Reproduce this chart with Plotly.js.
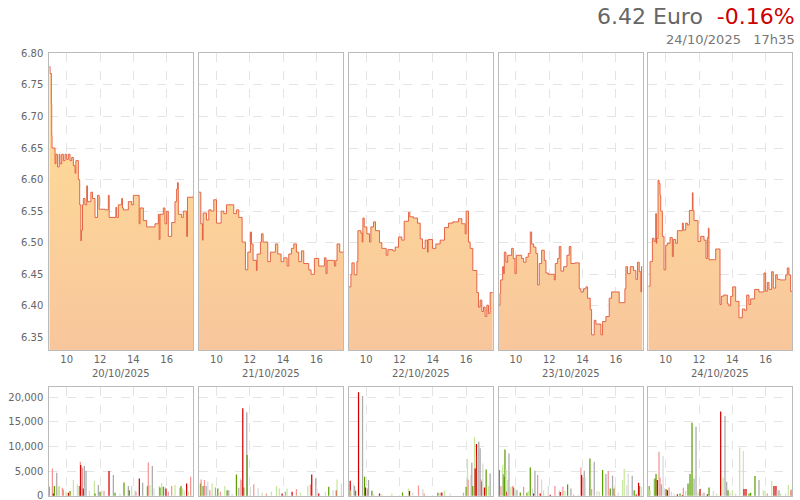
<!DOCTYPE html>
<html><head><meta charset="utf-8">
<script src="https://cdn.plot.ly/plotly-3.0.1.min.js"></script>
<style>html,body{margin:0;padding:0;background:#fff}#c{width:800px;height:500px}</style>
</head><body><div id="c"></div><script>
const days = ['20/10/2025','21/10/2025','22/10/2025','23/10/2025','24/10/2025'];
const tickHours = [10,12,14,16];
const volTicks = [0,5000,10000,15000,20000];
const lastPrice = '6.42 Euro';
const change = '-0.16%';
const stamp = '24/10/2025\u00a0\u00a0\u00a017h35';

const price1 = [[8.955,6.779],[9.0,6.768],[9.08,6.72],[9.1,6.67],[9.12,6.65],[9.3,6.625],[9.35,6.64],[9.45,6.62],[9.55,6.64],[9.6,6.625],[9.7,6.64],[9.8,6.63],[9.9,6.64],[10.0,6.632],[10.1,6.64],[10.2,6.63],[10.3,6.635],[10.4,6.622],[10.5,6.61],[10.55,6.63],[10.7,6.60],[10.78,6.56],[10.85,6.503],[10.88,6.52],[10.95,6.56],[11.0,6.57],[11.1,6.56],[11.2,6.59],[11.25,6.565],[11.45,6.58],[11.55,6.57],[11.7,6.54],[11.85,6.575],[11.95,6.553],[12.3,6.552],[12.5,6.575],[12.55,6.54],[12.9,6.54],[12.95,6.556],[13.0,6.54],[13.1,6.56],[13.3,6.57],[13.35,6.555],[13.4,6.552],[13.7,6.565],[13.9,6.56],[14.0,6.575],[14.35,6.53],[14.4,6.555],[14.6,6.535],[14.8,6.525],[15.3,6.53],[15.5,6.545],[15.55,6.505],[15.6,6.545],[15.8,6.555],[15.9,6.53],[16.0,6.55],[16.1,6.51],[16.3,6.532],[16.5,6.565],[16.6,6.585],[16.65,6.595],[16.7,6.545],[16.9,6.54],[17.0,6.55],[17.2,6.51],[17.25,6.572],[17.6,6.575]];
const price2 = [[8.955,6.580],[9.06,6.530],[9.16,6.504],[9.2,6.547],[9.4,6.536],[9.54,6.552],[9.68,6.550],[9.84,6.568],[10.0,6.531],[10.28,6.550],[10.44,6.546],[10.6,6.560],[11.04,6.546],[11.2,6.552],[11.34,6.540],[11.54,6.501],[11.74,6.457],[11.88,6.485],[12.04,6.517],[12.1,6.498],[12.2,6.472],[12.4,6.456],[12.44,6.482],[12.64,6.501],[12.7,6.514],[12.8,6.501],[13.08,6.470],[13.24,6.485],[13.54,6.498],[13.68,6.482],[13.88,6.470],[14.04,6.476],[14.24,6.463],[14.34,6.482],[14.5,6.491],[14.64,6.498],[14.8,6.485],[14.94,6.470],[15.1,6.487],[15.24,6.467],[15.54,6.457],[15.68,6.450],[15.88,6.475],[16.14,6.463],[16.48,6.476],[16.58,6.451],[16.64,6.472],[17.08,6.463],[17.16,6.472],[17.24,6.498],[17.4,6.485],[17.6,6.484]];
const price3 = [[8.955,6.430],[9.08,6.450],[9.14,6.468],[9.28,6.449],[9.44,6.470],[9.5,6.519],[9.68,6.515],[9.76,6.501],[9.8,6.539],[9.88,6.525],[10.04,6.514],[10.2,6.501],[10.28,6.525],[10.44,6.533],[10.56,6.519],[10.8,6.500],[10.94,6.491],[11.2,6.480],[11.3,6.489],[11.6,6.487],[11.74,6.493],[11.94,6.509],[12.14,6.504],[12.28,6.534],[12.54,6.548],[12.62,6.541],[12.84,6.539],[13.08,6.531],[13.24,6.506],[13.38,6.491],[13.54,6.504],[13.68,6.485],[13.72,6.505],[13.98,6.491],[14.18,6.498],[14.44,6.504],[14.7,6.524],[14.94,6.531],[15.2,6.533],[15.54,6.538],[15.74,6.530],[15.94,6.514],[16.0,6.550],[16.14,6.501],[16.24,6.491],[16.4,6.456],[16.64,6.421],[16.74,6.398],[16.84,6.409],[16.94,6.391],[17.04,6.398],[17.14,6.383],[17.24,6.401],[17.34,6.388],[17.44,6.421],[17.6,6.421]];
const price4 = [[8.955,6.401],[9.04,6.420],[9.08,6.441],[9.2,6.462],[9.26,6.451],[9.3,6.485],[9.4,6.469],[9.5,6.480],[9.74,6.491],[9.84,6.475],[9.94,6.451],[10.02,6.480],[10.34,6.475],[10.46,6.469],[10.6,6.477],[10.74,6.483],[10.86,6.517],[10.94,6.498],[11.06,6.493],[11.2,6.483],[11.3,6.433],[11.4,6.467],[11.54,6.488],[11.7,6.472],[11.8,6.452],[11.94,6.450],[12.3,6.441],[12.36,6.467],[12.5,6.475],[12.6,6.494],[12.7,6.455],[12.86,6.462],[13.06,6.480],[13.2,6.494],[13.3,6.467],[13.54,6.468],[13.8,6.427],[13.9,6.422],[14.06,6.427],[14.2,6.430],[14.3,6.412],[14.46,6.394],[14.54,6.354],[14.7,6.377],[14.8,6.371],[15.1,6.354],[15.2,6.375],[15.4,6.383],[15.6,6.412],[15.74,6.422],[16.2,6.405],[16.54,6.427],[16.6,6.462],[16.7,6.451],[16.86,6.462],[17.06,6.456],[17.2,6.442],[17.3,6.469],[17.4,6.454],[17.5,6.422],[17.54,6.462],[17.6,6.462]];
const price5 = [[8.955,6.431],[9.06,6.470],[9.2,6.507],[9.3,6.502],[9.4,6.546],[9.44,6.499],[9.46,6.507],[9.54,6.599],[9.6,6.594],[9.66,6.575],[9.7,6.550],[9.8,6.510],[9.9,6.457],[10.0,6.496],[10.1,6.499],[10.26,6.508],[10.4,6.478],[10.46,6.505],[10.6,6.499],[10.7,6.519],[11.0,6.531],[11.06,6.520],[11.2,6.531],[11.3,6.528],[11.42,6.551],[11.6,6.579],[11.64,6.551],[11.7,6.535],[11.94,6.502],[12.1,6.510],[12.3,6.504],[12.42,6.475],[12.5,6.508],[12.56,6.523],[12.6,6.473],[13.0,6.490],[13.26,6.402],[13.34,6.415],[13.46,6.417],[13.7,6.403],[13.8,6.400],[13.9,6.415],[14.02,6.430],[14.2,6.407],[14.4,6.381],[14.6,6.395],[14.74,6.393],[14.86,6.417],[15.0,6.402],[15.1,6.411],[15.34,6.426],[15.6,6.422],[15.9,6.452],[16.0,6.423],[16.1,6.437],[16.2,6.426],[16.36,6.454],[16.46,6.428],[16.6,6.449],[16.7,6.442],[16.86,6.441],[17.2,6.449],[17.3,6.460],[17.4,6.449],[17.5,6.423],[17.6,6.423]];

// volume: [hour, shares, trade type]  R=down big, r=down, G=up big, g=up, K=neutral big, k=neutral
const vol1 = [[8.96,1830,'G'],[9.14,5560,'r'],[9.2,475,'R'],[9.26,1970,'G'],[9.4,4680,'K'],[9.5,1830,'g'],[9.56,1970,'g'],[9.74,1630,'r'],[9.8,1290,'r'],[9.96,810,'g'],[10.1,610,'R'],[10.2,950,'G'],[10.4,3190,'g'],[10.64,2370,'k'],[10.76,1970,'G'],[10.82,6920,'r'],[10.84,6240,'R'],[10.94,5700,'r'],[11.0,1490,'R'],[11.06,6030,'K'],[11.1,1830,'k'],[11.16,5090,'K'],[11.36,1020,'k'],[11.66,2980,'g'],[11.7,475,'G'],[11.9,2170,'K'],[12.0,810,'G'],[12.1,1150,'k'],[12.24,950,'r'],[12.54,5020,'R'],[12.8,4200,'K'],[12.9,610,'G'],[13.2,475,'k'],[13.44,2710,'G'],[13.7,1970,'K'],[13.76,1150,'G'],[13.9,1970,'g'],[14.1,1150,'k'],[14.16,810,'r'],[14.36,3530,'R'],[14.56,2640,'K'],[14.82,1830,'g'],[14.86,1970,'G'],[14.9,6780,'r'],[15.0,2170,'g'],[15.14,6030,'K'],[15.24,1490,'k'],[15.56,1970,'g'],[15.6,1700,'G'],[15.7,2640,'g'],[15.8,1830,'G'],[15.9,1830,'k'],[15.96,1490,'R'],[16.1,810,'r'],[16.3,1970,'r'],[16.5,2170,'g'],[16.8,1630,'r'],[16.86,1970,'G'],[16.96,1490,'g'],[17.06,1020,'k'],[17.2,2510,'R'],[17.3,810,'g'],[17.44,3860,'r']];
const vol2 = [[9.04,2510,'G'],[9.08,3320,'r'],[9.2,1970,'G'],[9.28,3190,'r'],[9.38,1970,'K'],[9.48,2850,'k'],[9.6,1150,'r'],[9.74,2510,'g'],[9.94,1700,'K'],[10.08,1490,'G'],[10.24,810,'r'],[10.5,1970,'g'],[10.64,1150,'G'],[10.74,1150,'K'],[10.94,475,'k'],[11.2,4340,'G'],[11.34,1630,'K'],[11.44,3530,'k'],[11.48,3190,'r'],[11.58,17760,'R'],[11.64,1700,'G'],[11.82,16950,'K'],[11.84,8270,'G'],[12.04,1830,'k'],[12.24,2370,'r'],[12.5,1630,'k'],[12.74,610,'g'],[13.0,475,'r'],[13.3,810,'g'],[13.6,1970,'g'],[13.78,1490,'g'],[13.94,475,'R'],[14.14,810,'K'],[14.24,1490,'g'],[14.54,810,'R'],[14.8,1360,'r'],[15.04,680,'g'],[15.48,1970,'g'],[15.64,2300,'r'],[15.72,4340,'R'],[15.96,3530,'K'],[16.04,1490,'k'],[16.14,475,'R'],[16.54,810,'k'],[16.74,1830,'G'],[17.0,1150,'k'],[17.2,1150,'R'],[17.24,3320,'g'],[17.5,2510,'k']];
const vol3 = [[9.04,3050,'R'],[9.08,1150,'g'],[9.24,2300,'k'],[9.3,1970,'K'],[9.36,1020,'G'],[9.54,21020,'R'],[9.78,20270,'K'],[9.9,3860,'G'],[9.96,1700,'R'],[10.08,1490,'r'],[10.14,3190,'K'],[10.34,1020,'G'],[10.44,475,'k'],[10.8,475,'R'],[10.94,340,'g'],[11.54,475,'g'],[12.18,680,'G'],[12.54,1490,'g'],[12.6,950,'R'],[12.8,680,'k'],[13.14,2100,'r'],[13.4,1360,'k'],[13.48,475,'r'],[14.3,610,'G'],[14.44,610,'r'],[14.54,680,'R'],[14.7,1150,'g'],[15.04,475,'k'],[15.84,610,'r'],[16.0,1830,'G'],[16.08,7460,'g'],[16.12,3320,'r'],[16.28,4200,'k'],[16.34,6710,'K'],[16.4,1970,'G'],[16.5,11870,'g'],[16.54,5560,'R'],[16.62,10510,'R'],[16.68,8270,'k'],[16.76,10980,'K'],[16.84,9630,'K'],[16.9,3320,'r'],[16.94,2850,'G'],[17.0,6580,'k'],[17.1,1700,'R'],[17.2,5360,'G'],[17.34,1970,'g'],[17.44,4540,'K']];
const vol4 = [[9.0,5220,'G'],[9.1,1970,'r'],[9.2,6240,'g'],[9.24,4410,'K'],[9.3,3860,'G'],[9.34,9420,'G'],[9.4,5360,'g'],[9.46,810,'R'],[9.5,3190,'k'],[9.58,8610,'K'],[9.7,1830,'g'],[9.8,1970,'r'],[9.86,1700,'G'],[9.96,1290,'k'],[10.06,1150,'K'],[10.26,680,'G'],[10.46,1830,'r'],[10.66,610,'G'],[10.74,950,'g'],[10.86,5760,'G'],[11.0,1490,'k'],[11.06,475,'R'],[11.14,5090,'K'],[11.3,4200,'r'],[11.46,475,'R'],[11.54,3320,'k'],[11.66,1150,'g'],[11.94,1970,'k'],[12.06,200,'R'],[12.34,1970,'r'],[12.6,1150,'k'],[12.66,750,'R'],[12.82,1830,'r'],[12.94,950,'g'],[13.1,2300,'G'],[13.3,1490,'K'],[13.46,200,'r'],[13.74,200,'k'],[13.9,5760,'r'],[13.94,4200,'R'],[14.02,3730,'r'],[14.1,5090,'K'],[14.16,3530,'k'],[14.44,7590,'G'],[14.54,1360,'r'],[14.7,6920,'K'],[14.86,950,'k'],[15.0,810,'g'],[15.2,5220,'G'],[15.4,4410,'K'],[15.54,5020,'r'],[15.66,1490,'G'],[15.8,4070,'K'],[15.9,1490,'R'],[15.94,1970,'g'],[16.14,610,'k'],[16.4,3190,'g'],[16.5,5420,'g'],[16.66,2170,'k'],[16.74,4540,'k'],[16.98,4070,'K'],[17.1,1150,'G'],[17.22,270,'R'],[17.36,2640,'R'],[17.42,1970,'G'],[17.54,1830,'k']];
const vol5 = [[9.0,1970,'G'],[9.06,1150,'g'],[9.3,3390,'g'],[9.36,3530,'G'],[9.42,4410,'G'],[9.5,3190,'R'],[9.6,8950,'r'],[9.66,3730,'r'],[9.74,2370,'K'],[9.84,8070,'k'],[9.94,1490,'k'],[10.02,1360,'G'],[10.1,1150,'R'],[10.2,1700,'r'],[10.34,810,'k'],[10.5,475,'k'],[10.7,340,'R'],[10.86,475,'G'],[11.0,140,'R'],[11.06,1630,'r'],[11.2,950,'g'],[11.34,2510,'G'],[11.46,4410,'G'],[11.58,14850,'G'],[11.7,3530,'K'],[11.82,14030,'K'],[11.94,810,'g'],[12.06,1360,'R'],[12.2,475,'k'],[12.3,610,'K'],[12.5,340,'R'],[12.6,1700,'G'],[12.86,950,'k'],[13.06,475,'g'],[13.3,17090,'R'],[13.44,3660,'g'],[13.56,16200,'K'],[13.66,2850,'K'],[13.74,1150,'G'],[13.86,610,'k'],[14.0,1150,'g'],[14.2,475,'k'],[14.44,9830,'g'],[14.66,9090,'k'],[14.7,1360,'R'],[14.82,1360,'R'],[15.0,475,'G'],[15.1,610,'G'],[15.36,4000,'G'],[15.6,3190,'K'],[15.86,1150,'g'],[15.96,950,'g'],[16.1,475,'r'],[16.36,2980,'g'],[16.5,1970,'R'],[16.62,1970,'R'],[16.7,1150,'k'],[16.8,1150,'K'],[16.9,475,'g'],[17.2,475,'k'],[17.36,2170,'g'],[17.5,1150,'r'],[17.56,1290,'r']];

const prices = [price1,price2,price3,price4,price5];
const vols = [vol1,vol2,vol3,vol4,vol5];
const typeColor = {R:'#d40000', r:'#f69494', G:'#5a9e00', g:'#c6e89c', K:'#aaaaaa', k:'#d9d9d9'};

const W = 800, H = 500;
const left0 = 49.3, pw = 144, step = 149.75;
const priceDom = [1-350/H, 1-53/H];
const volDom = [1-496/H, 1-386.7/H];
const xr = [8.955, 17.6];

const traces = [];
const layout = {
  width: W, height: H, margin:{l:0,r:0,t:0,b:0},
  paper_bgcolor:'#fff', plot_bgcolor:'#fff', showlegend:false,
  font:{family:'DejaVu Sans, sans-serif', size:10, color:'#666'},
  annotations:[], hovermode:false
};
const axCommon = {showline:true, mirror:true, linecolor:'#bbbbbb', linewidth:1, ticks:'', zeroline:false,
  showgrid:true, gridcolor:'#e4e4e4', griddash:'dash', gridwidth:1, tickfont:{size:10, color:'#666'}, fixedrange:true,
  ticklabeloverflow:'allow'};

for (let k=0;k<5;k++){
  const px = k+1, vx = k+6;
  const pxn = px===1?'':px;
  const d0 = (left0 + step*k)/W, d1 = (left0 + step*k + pw)/W;
  const p = prices[k], v = vols[k];
  traces.push({type:'scatter', mode:'lines', x:p.map(a=>a[0]), y:p.map(a=>a[1]),
    xaxis:'x'+pxn, yaxis:'y'+pxn, line:{shape:'hv', color:'rgba(226,88,58,0.9)', width:1},
    fill:'tozeroy', fillgradient:{type:'vertical', start:6.33, stop:6.62,
      colorscale:[[0,'rgb(248,198,156)'],[1,'rgb(253,214,152)']]}});
  traces.push({type:'bar', x:v.map(a=>a[0]), y:v.map(a=>a[1]), width:0.075,
    marker:{color:v.map(a=>typeColor[a[2]]), line:{width:0}},
    xaxis:'x'+vx, yaxis:'y'+vx});
  layout['xaxis'+pxn] = Object.assign({}, axCommon, {domain:[d0,d1], range:xr, tickvals:tickHours, ticktext:tickHours.map(String), anchor:'y'+pxn});
  layout['yaxis'+pxn] = Object.assign({}, axCommon, {domain:priceDom, range:[6.33,6.8005], tick0:6.35, dtick:0.05, tickformat:'.2f', showticklabels:k===0, anchor:'x'+pxn, ticklabelstandoff:3});
  layout['xaxis'+vx] = Object.assign({}, axCommon, {domain:[d0,d1], range:xr, tickvals:tickHours, showticklabels:false, anchor:'y'+vx});
  layout['yaxis'+vx] = Object.assign({}, axCommon, {domain:volDom, range:[-40,22150], tickmode:'array', tickvals:volTicks,
    ticktext:volTicks.map(t=>t.toLocaleString('en-US')), showticklabels:k===0, anchor:'x'+vx, ticklabelstandoff:3});
  layout.annotations.push({xref:'paper', yref:'paper', x:(d0+d1)/2, y:1-373/H, xanchor:'center', yanchor:'middle',
    text:days[k], showarrow:false, font:{size:10, color:'#666'}});
}
layout.annotations.push({xref:'paper', yref:'paper', x:797/W, y:1-16/H, xanchor:'right', yanchor:'middle', showarrow:false,
  text: lastPrice + '  <span style="color:#cc0000">' + change + '</span>', font:{size:22, color:'#666'}});
layout.annotations.push({xref:'paper', yref:'paper', x:797/W, y:1-40/H, xanchor:'right', yanchor:'middle', showarrow:false,
  text: stamp, font:{size:13, color:'#777'}});

Plotly.newPlot('c', traces, layout, {staticPlot:true, displayModeBar:false});
</script></body></html>
